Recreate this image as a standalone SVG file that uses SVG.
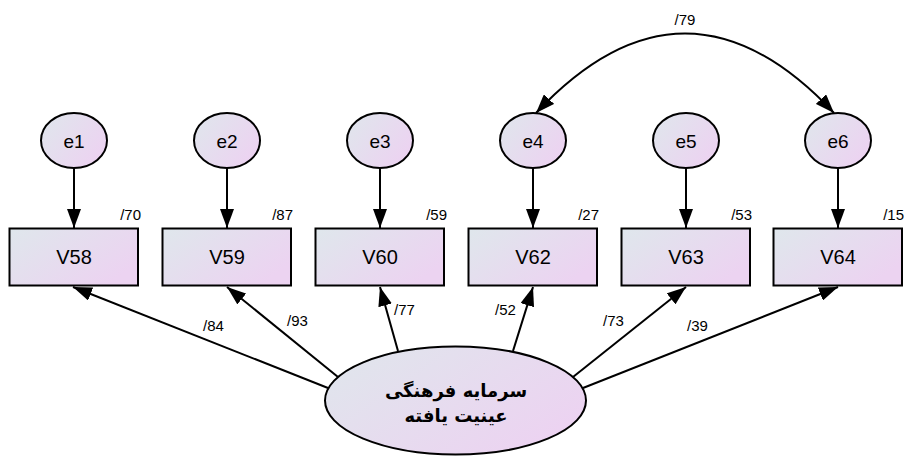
<svg xmlns="http://www.w3.org/2000/svg" width="904" height="456" viewBox="0 0 904 456">
  <style>
    .node { stroke: #000; stroke-width: 2; fill: url(#fillGrad); }
    .lbl { font-family: "Liberation Sans", Arial, sans-serif; font-size: 19px; fill: #000; text-anchor: middle; }
    .box { font-size: 20px; }
    .est { font-family: "Liberation Sans", Arial, sans-serif; font-size: 15px; fill: #000; }
    .edge { stroke: #000; stroke-width: 2; fill: none; marker-end: url(#head); }
    .fa { font-family: "DejaVu Sans", "Noto Sans", sans-serif; font-size: 18px; font-weight: bold; text-anchor: middle; }
  </style>
  <defs>
    <linearGradient id="fillGrad" x1="0" y1="0" x2="1" y2="0.6">
      <stop offset="0" stop-color="#dfe7ec"/>
      <stop offset="1" stop-color="#ecd3f1"/>
    </linearGradient>
    <marker id="head" markerUnits="userSpaceOnUse" markerWidth="20" markerHeight="14" refX="19" refY="7" orient="auto-start-reverse">
      <path d="M0,0 L19,7 L0,14 z" fill="#000"/>
    </marker>
  </defs>

  <!-- connectors -->
  <g id="connectors">
    <line class="edge" x1="74" y1="168" x2="74" y2="228"/>
    <line class="edge" x1="227" y1="168" x2="227" y2="228"/>
    <line class="edge" x1="380" y1="168" x2="380" y2="228"/>
    <line class="edge" x1="533" y1="168" x2="533" y2="228"/>
    <line class="edge" x1="686" y1="168" x2="686" y2="228"/>
    <line class="edge" x1="838" y1="168" x2="838" y2="228"/>

    <line class="edge" x1="328" y1="388" x2="73" y2="287"/>
    <line class="edge" x1="338" y1="377" x2="227" y2="287"/>
    <line class="edge" x1="398" y1="351" x2="380" y2="287"/>
    <line class="edge" x1="513" y1="351" x2="533" y2="287"/>
    <line class="edge" x1="573" y1="377" x2="686" y2="287"/>
    <line class="edge" x1="583" y1="388" x2="838" y2="287"/>

    <path class="edge" d="M536,113 Q685,-46 834,113" marker-start="url(#head)"/>
  </g>

  <!-- estimates -->
  <g id="estimates">
    <text class="est" x="685" y="25" text-anchor="middle">/79</text>
    <text class="est" x="141" y="220" text-anchor="end">/70</text>
    <text class="est" x="293" y="220" text-anchor="end">/87</text>
    <text class="est" x="447" y="220" text-anchor="end">/59</text>
    <text class="est" x="599" y="220" text-anchor="end">/27</text>
    <text class="est" x="752" y="220" text-anchor="end">/53</text>
    <text class="est" x="904" y="220" text-anchor="end">/15</text>
    <text class="est" x="203" y="331">/84</text>
    <text class="est" x="287" y="326">/93</text>
    <text class="est" x="394" y="315">/77</text>
    <text class="est" x="495" y="315">/52</text>
    <text class="est" x="603" y="326">/73</text>
    <text class="est" x="687" y="331">/39</text>
  </g>

  <!-- error terms -->
  <g id="e1"><ellipse class="node" cx="74" cy="140.5" rx="33" ry="27.5"/><text class="lbl" x="74" y="147.5">e1</text></g>
  <g id="e2"><ellipse class="node" cx="227" cy="140.5" rx="33" ry="27.5"/><text class="lbl" x="227" y="147.5">e2</text></g>
  <g id="e3"><ellipse class="node" cx="380" cy="140.5" rx="33" ry="27.5"/><text class="lbl" x="380" y="147.5">e3</text></g>
  <g id="e4"><ellipse class="node" cx="533" cy="140.5" rx="33" ry="27.5"/><text class="lbl" x="533" y="147.5">e4</text></g>
  <g id="e5"><ellipse class="node" cx="686" cy="140.5" rx="33" ry="27.5"/><text class="lbl" x="686" y="147.5">e5</text></g>
  <g id="e6"><ellipse class="node" cx="838" cy="140.5" rx="33" ry="27.5"/><text class="lbl" x="838" y="147.5">e6</text></g>

  <!-- observed variables -->
  <g id="V58"><rect class="node" x="9.5" y="228.5" width="128.5" height="57"/><text class="lbl box" x="74" y="264">V58</text></g>
  <g id="V59"><rect class="node" x="162.5" y="228.5" width="128.5" height="57"/><text class="lbl box" x="227" y="264">V59</text></g>
  <g id="V60"><rect class="node" x="315.5" y="228.5" width="128.5" height="57"/><text class="lbl box" x="380" y="264">V60</text></g>
  <g id="V62"><rect class="node" x="468.5" y="228.5" width="128.5" height="57"/><text class="lbl box" x="533" y="264">V62</text></g>
  <g id="V63"><rect class="node" x="621.5" y="228.5" width="128.5" height="57"/><text class="lbl box" x="686" y="264">V63</text></g>
  <g id="V64"><rect class="node" x="773.5" y="228.5" width="128.5" height="57"/><text class="lbl box" x="838" y="264">V64</text></g>

  <!-- latent factor -->
  <g id="latent">
    <ellipse class="node" cx="455.5" cy="400.5" rx="130.5" ry="54"/>
    <text class="fa" x="456" y="397">سرمایه فرهنگی</text>
    <text class="fa" x="456" y="422">عینیت یافته</text>
  </g>
</svg>
